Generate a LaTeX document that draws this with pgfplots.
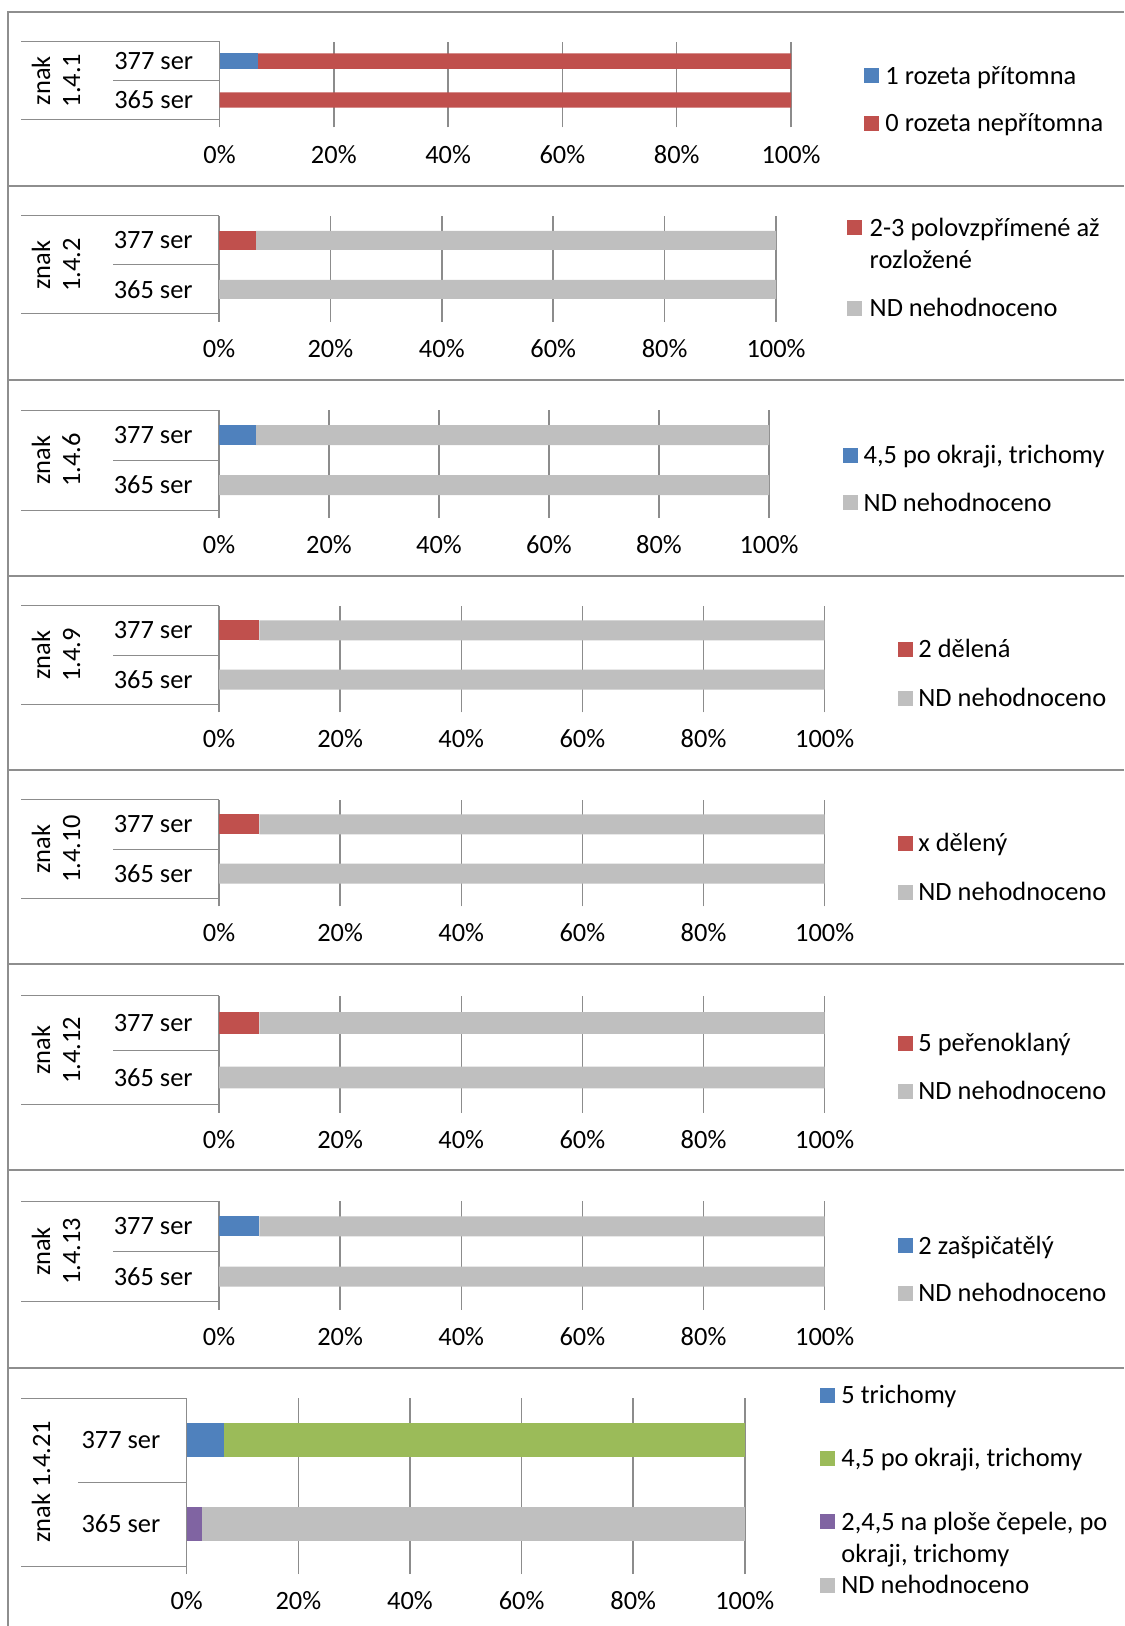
\documentclass[border=0pt]{standalone}
\usepackage{fontspec}
\setmainfont{Carlito}
\usepackage{pgfplots}
\pgfplotsset{compat=1.18}
\definecolor{cblue}{HTML}{4F81BD}
\definecolor{cred}{HTML}{C0504D}
\definecolor{cgrey}{HTML}{BFBFBF}
\definecolor{cgreen}{HTML}{9BBB59}
\definecolor{cpurple}{HTML}{8064A2}
\definecolor{cline}{HTML}{8C8C8C}
\definecolor{cframe}{HTML}{8E8E8E}
\newcommand{\fs}{\fontsize{13.2pt}{15pt}\selectfont}
\pgfplotsset{panel/.style={
  scale only axis, anchor=north west, xbar stacked,
  xmin=0, xmax=100, ymin=-0.5, ymax=1.5,
  xtick={0,20,40,60,80,100},
  xticklabel={\pgfmathprintnumber{\tick}\%},
  ytick={0,1}, yticklabels={365 ser,377 ser},
  xmajorgrids, grid style={draw=cline, line width=0.75pt},
  axis line style={draw=none},
  tick align=outside, xtick pos=bottom, major tick length=4pt,
  xtick style={draw=cline, line width=0.75pt},
  ytick style={draw=none},
  ticklabel style={font=\fs},
  yticklabel style={anchor=east, inner sep=0pt, xshift=-9pt},
  xticklabel style={anchor=base, inner sep=0pt, yshift=-17.8pt},
  /pgf/number format/assume math mode=true,
  clip=false,
  every axis plot/.append style={draw=none},
}}
% separators: top, mid, bottom, mid start x, axis x
\newcommand{\sep}[5]{\draw[cline,line width=0.5pt] (10.5pt,#1pt) -- (#5pt,#1pt) (#4pt,#2pt) -- (#5pt,#2pt) (10.5pt,#3pt) -- (#5pt,#3pt);}
% legend: square center x, text x, y, colour, text
\newcommand{\leg}[5]{\node[fill=#4,minimum size=7.5pt,inner sep=0pt] at (#1pt,#3pt) {}; \node[anchor=base west,inner sep=0pt] at (#2pt,{#3pt-4.2pt}) {#5};}
\begin{document}
\begin{tikzpicture}[font=\fs]
\path[use as bounding box] (0,0) rectangle (562pt,-813pt);
\draw[cframe, line width=1pt] (3.75pt,-813pt) -- (3.75pt,-6.2pt) -- (562pt,-6.2pt);
\foreach \y in {92.85,189.85,287.85,384.85,481.85,585,684.1} \draw[cframe,line width=1pt] (3.75pt,-\y pt) -- (562pt,-\y pt);

% Panel 1
\begin{axis}[panel, at={(109.75pt,-20.85pt)}, width=285.75pt, height=38.9pt, bar width=7.65pt]
\addplot[fill=cblue] coordinates {(6.67,1) (0,0)};
\addplot[fill=cred] coordinates {(93.33,1) (100,0)};
\end{axis}
\sep{-20.85}{-40.3}{-59.75}{56.5}{109.75}
\node[rotate=90, align=center] at (28pt,-40.3pt) {znak\\1.4.1};
\leg{435.9}{442.5}{-38}{cblue}{1 rozeta přítomna}
\leg{435.9}{442.5}{-61.65}{cred}{0 rozeta nepřítomna}

% Panel 2
\begin{axis}[panel, at={(109.5pt,-108pt)}, width=278.5pt, height=49pt, bar width=9.5pt]
\addplot[fill=cred] coordinates {(6.67,1) (0,0)};
\addplot[fill=cgrey] coordinates {(93.33,1) (100,0)};
\end{axis}
\sep{-108}{-132.5}{-157}{56.5}{109.5}
\node[rotate=90, align=center] at (28pt,-132.5pt) {znak\\1.4.2};
\leg{427.4}{434.65}{-113.85}{cred}{2-3 polovzpřímené až}
\node[anchor=base west,inner sep=0pt] at (434.65pt,-134.2pt) {rozložené};
\leg{427.4}{434.65}{-154.15}{cgrey}{ND nehodnoceno}

% Panel 3
\begin{axis}[panel, at={(109.5pt,-205pt)}, width=275pt, height=50pt, bar width=10pt]
\addplot[fill=cblue] coordinates {(6.67,1) (0,0)};
\addplot[fill=cgrey] coordinates {(93.33,1) (100,0)};
\end{axis}
\sep{-205}{-230}{-255}{56.5}{109.5}
\node[rotate=90, align=center] at (28pt,-230pt) {znak\\1.4.6};
\leg{425}{431.65}{-227.5}{cblue}{4,5 po okraji, trichomy}
\leg{425}{431.65}{-251.35}{cgrey}{ND nehodnoceno}

% Panel 4
\begin{axis}[panel, at={(109.5pt,-302.9pt)}, width=302.85pt, height=49.25pt, bar width=10pt]
\addplot[fill=cred] coordinates {(6.67,1) (0,0)};
\addplot[fill=cgrey] coordinates {(93.33,1) (100,0)};
\end{axis}
\sep{-302.9}{-327.5}{-352.15}{56.5}{109.5}
\node[rotate=90, align=center] at (28pt,-327.5pt) {znak\\1.4.9};
\leg{452.5}{459}{-324.65}{cred}{2 dělená}
\leg{452.5}{459}{-349.05}{cgrey}{ND nehodnoceno}

% Panel 5
\begin{axis}[panel, at={(109.5pt,-399.9pt)}, width=302.85pt, height=49.25pt, bar width=10pt]
\addplot[fill=cred] coordinates {(6.67,1) (0,0)};
\addplot[fill=cgrey] coordinates {(93.33,1) (100,0)};
\end{axis}
\sep{-399.9}{-424.5}{-449.15}{56.5}{109.5}
\node[rotate=90, align=center] at (28pt,-424.5pt) {znak\\1.4.10};
\leg{452.5}{459}{-421.65}{cred}{x dělený}
\leg{452.5}{459}{-446.05}{cgrey}{ND nehodnoceno}

% Panel 6
\begin{axis}[panel, at={(109.5pt,-497.9pt)}, width=302.85pt, height=54.45pt, bar width=10.9pt]
\addplot[fill=cred] coordinates {(6.67,1) (0,0)};
\addplot[fill=cgrey] coordinates {(93.33,1) (100,0)};
\end{axis}
\sep{-497.9}{-525.1}{-552.35}{56.5}{109.5}
\node[rotate=90, align=center] at (28pt,-525.1pt) {znak\\1.4.12};
\leg{452.5}{459}{-521.75}{cred}{5 peřenoklaný}
\leg{452.5}{459}{-545.6}{cgrey}{ND nehodnoceno}

% Panel 7
\begin{axis}[panel, at={(109.5pt,-600.6pt)}, width=302.85pt, height=50.3pt, bar width=10pt]
\addplot[fill=cblue] coordinates {(6.67,1) (0,0)};
\addplot[fill=cgrey] coordinates {(93.33,1) (100,0)};
\end{axis}
\sep{-600.6}{-625.75}{-650.9}{56.5}{109.5}
\node[rotate=90, align=center] at (28pt,-625.75pt) {znak\\1.4.13};
\leg{452.5}{459}{-622.9}{cblue}{2 zašpičatělý}
\leg{452.5}{459}{-646.75}{cgrey}{ND nehodnoceno}

% Panel 8
\begin{axis}[panel, at={(93.35pt,-699pt)}, width=279.05pt, height=84pt, bar width=17pt]
\addplot[fill=cblue] coordinates {(6.67,1) (0,0)};
\addplot[fill=cgreen] coordinates {(93.33,1) (0,0)};
\addplot[fill=cpurple] coordinates {(0,1) (2.7,0)};
\addplot[fill=cgrey] coordinates {(0,1) (97.3,0)};
\end{axis}
\sep{-699}{-741}{-783}{39}{93.35}
\node[rotate=90] at (20.5pt,-741pt) {znak 1.4.21};
\leg{413.6}{420.5}{-697.6}{cblue}{5 trichomy}
\leg{413.6}{420.5}{-729.2}{cgreen}{4,5 po okraji, trichomy}
\leg{413.6}{420.5}{-760.85}{cpurple}{2,4,5 na ploše čepele, po}
\node[anchor=base west,inner sep=0pt] at (420.5pt,-781.15pt) {okraji, trichomy};
\leg{413.6}{420.5}{-792.5}{cgrey}{ND nehodnoceno}
\end{tikzpicture}
\end{document}
